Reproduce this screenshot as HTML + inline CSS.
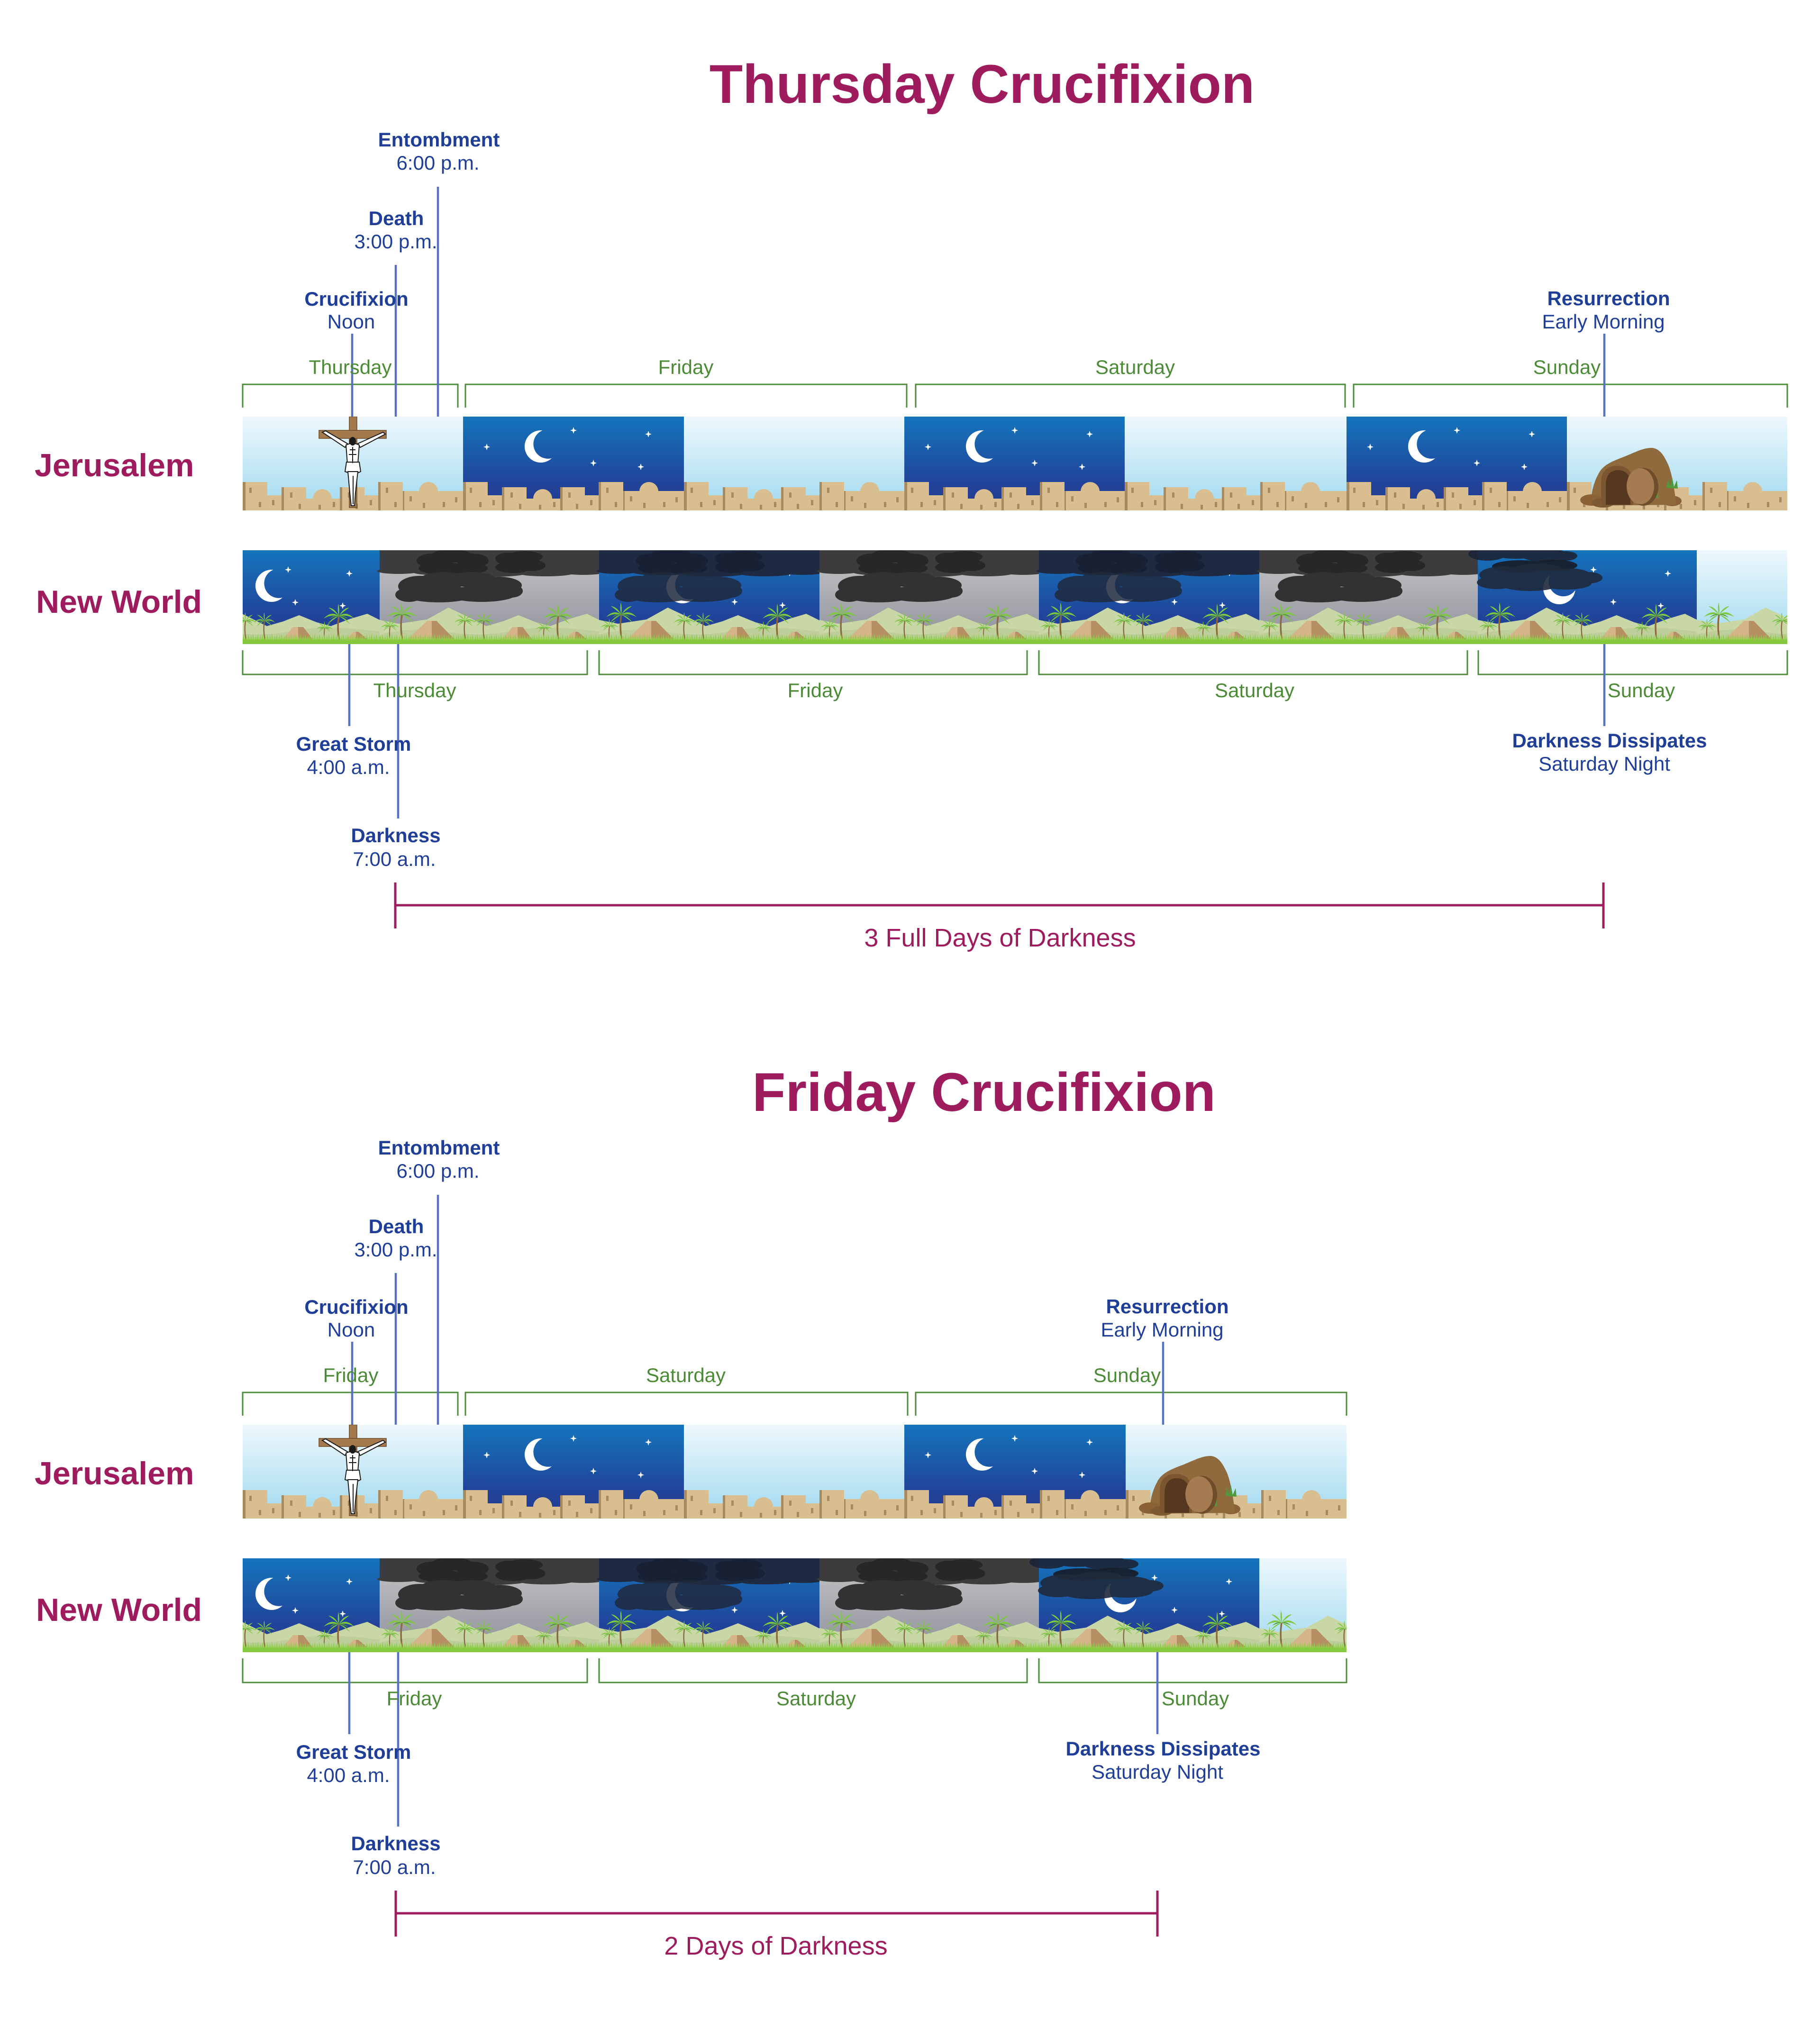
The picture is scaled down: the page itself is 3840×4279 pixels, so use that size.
<!DOCTYPE html>
<html><head><meta charset="utf-8"><style>
html,body{margin:0;padding:0;background:#fff;}
svg{display:block;}
text{font-family:"Liberation Sans",Arial,sans-serif;}
</style></head><body>
<svg xmlns="http://www.w3.org/2000/svg" width="3840" height="4279" viewBox="0 0 3840 4279">
<defs>
 <linearGradient id="gDay" x1="0" y1="0" x2="0" y2="1"><stop offset="0" stop-color="#eef8fd"/><stop offset="1" stop-color="#a0d9ee"/></linearGradient>
 <linearGradient id="gNight" x1="0" y1="0" x2="0" y2="1"><stop offset="0" stop-color="#1475bc"/><stop offset="0.7" stop-color="#21449a"/><stop offset="1" stop-color="#243a90"/></linearGradient>
 <linearGradient id="gStorm" x1="0" y1="0" x2="0" y2="1"><stop offset="0" stop-color="#c6c6c6"/><stop offset="1" stop-color="#8f8f9c"/></linearGradient>
 <pattern id="grassP" x="0" y="176" width="10" height="14" patternUnits="userSpaceOnUse"><path d="M0,14 L2,3 L4,14 L6,0 L8,14 L9,5 L10,14Z" fill="#8bcf45"/></pattern>
 <clipPath id="cJ1"><rect x="512" y="879" width="3259" height="198"/></clipPath>
 <clipPath id="cN1"><rect x="512" y="1161" width="3259" height="198"/></clipPath>
 <clipPath id="cJ2"><rect x="512" y="879" width="2329" height="198"/></clipPath>
 <clipPath id="cN2"><rect x="512" y="1161" width="2329" height="198"/></clipPath>

 <path id="star" d="M0,-7 L1.8,-1.8 L7,0 L1.8,1.8 L0,7 L-1.8,1.8 L-7,0 L-1.8,-1.8Z" fill="#fff"/>
 <path id="moon" d="M3.6,-33.8 A34,34 0 1,0 23.1,24.9 A31,31 0 0,1 3.6,-33.8Z" fill="#fff"/>

 <g id="walls">
  <path fill="#d9be8f" d="M0,198 V138 H52 V166 H82 V149 H134 V173 H205 V149 H257 V166 H286 V138 H338 V157 H468 V198 Z"/>
  <circle cx="168" cy="173" r="20" fill="#d9be8f"/>
  <circle cx="392" cy="158" r="20" fill="#d9be8f"/>
  <g fill="#a88a62">
   <rect x="0" y="138" width="6" height="60"/><rect x="82" y="149" width="5" height="49"/>
   <rect x="205" y="149" width="5" height="49"/><rect x="286" y="138" width="5" height="60"/>
   <rect x="338" y="157" width="3" height="41"/>
   <rect x="14" y="150" width="5" height="11"/><rect x="34" y="180" width="5" height="11"/>
   <rect x="62" y="176" width="5" height="11"/><rect x="100" y="160" width="5" height="11"/>
   <rect x="118" y="184" width="5" height="11"/><rect x="160" y="186" width="5" height="10"/>
   <rect x="190" y="180" width="5" height="11"/><rect x="222" y="160" width="5" height="11"/>
   <rect x="238" y="184" width="5" height="11"/><rect x="268" y="176" width="5" height="11"/>
   <rect x="302" y="150" width="5" height="11"/><rect x="320" y="180" width="5" height="11"/>
   <rect x="352" y="168" width="5" height="11"/><rect x="380" y="182" width="5" height="11"/>
   <rect x="422" y="180" width="5" height="11"/><rect x="448" y="170" width="5" height="11"/>
  </g>
 </g>

 <g id="jDay"><rect width="468" height="198" fill="url(#gDay)"/><use href="#walls"/></g>
 <g id="jNight"><rect width="468" height="198" fill="url(#gNight)"/>
  <use href="#moon" x="164" y="63"/>
  <use href="#star" x="50" y="64"/><use href="#star" x="233" y="29"/><use href="#star" x="391" y="37"/>
  <use href="#star" x="275" y="98"/><use href="#star" x="375" y="106"/>
  <use href="#walls"/></g>

 <g id="cross">
  <rect x="225" y="0" width="16" height="192" fill="#a47a4c" stroke="#6b4a2a" stroke-width="1.5"/>
  <rect x="161" y="29" width="142" height="17" fill="#a47a4c" stroke="#6b4a2a" stroke-width="1.5"/>
  <g fill="#fff" stroke="#1a1a1a" stroke-width="2">
   <polygon points="168,33 175,30 221,57 216,65"/>
   <polygon points="296,33 301,37 248,65 243,57"/>
   <path d="M218,60 Q232,53 246,60 L243,100 Q232,104 221,100 Z"/>
   <path d="M219,96 L246,96 L249,116 L236,122 L216,116 Z"/>
   <path d="M222,116 L243,116 L238,160 L236,188 L229,188 L226,160 Z"/>
  </g>
  <ellipse cx="232" cy="52" rx="7" ry="9" fill="#1a1a1a"/>
  <path d="M232,64 V98 M226,70 L238,70 M224,80 L240,80 M233,125 V185" stroke="#1a1a1a" stroke-width="2"/>
 </g>

 <g id="tomb">
  <ellipse cx="222" cy="178" rx="20" ry="11" fill="#8a6236"/>
  <path d="M52,182 C50,165 56,140 66,122 C74,104 92,96 112,88 C135,80 158,66 178,66 C195,66 205,82 214,102 C222,122 226,150 230,178 L230,186 L52,188Z" fill="#8f6a3d"/>
  <ellipse cx="52" cy="176" rx="24" ry="12" fill="#8a6236"/>
  <ellipse cx="76" cy="182" rx="24" ry="10" fill="#7e5a32"/>
  <path d="M72,186 V140 Q72,104 106,104 Q138,104 140,140 V186Z" fill="#7b5631"/>
  <path d="M82,186 V146 Q82,113 108,113 Q134,113 134,146 V186Z" fill="#55381f"/>
  <path d="M210,150 L214,132 L218,148 L222,128 L226,148 L232,134 L234,152Z" fill="#4e9a3c"/>
  <path d="M168,168 L172,150 L176,166 L182,148 L186,166 L192,156 L192,172Z" fill="#4e9a3c"/>
  <ellipse cx="161" cy="148" rx="32" ry="40" fill="#6f4d2a"/>
  <ellipse cx="155" cy="147" rx="29" ry="38" fill="#a57c51"/>
 </g>

 <g id="palm">
  <path d="M0,0 Q-5,30 3,64" stroke="#8a6a3a" stroke-width="3.5" fill="none"/>
  <path d="M0,0 Q-16,-12 -32,5 Q-16,-4 0,0Z M0,0 Q16,-12 32,5 Q16,-4 0,0Z M0,0 Q-9,-17 -22,-18 Q-9,-9 0,0Z M0,0 Q9,-17 22,-18 Q9,-9 0,0Z M0,0 Q-13,2 -24,17 Q-9,5 0,0Z M0,0 Q13,2 24,17 Q9,5 0,0Z M0,0 Q2,-14 -1,-26 Q-4,-12 0,0Z" fill="#7cc83f"/>
  <path d="M0,0 Q-10,-4 -20,6 Q-8,0 0,0Z M0,0 Q10,-4 20,6 Q8,0 0,0Z" fill="#4f9a2c"/>
 </g>

 <g id="ground">
  <path fill="#c9d7a7" d="M0,147 L40,155 L100,146 L145,121 L185,140 L225,160 L260,150 L293,137 L330,152 L360,160 L400,145 L437,134 L465,148 V198 H0Z"/>
  <path fill="#b7c893" d="M0,178 Q70,160 140,172 T280,170 T465,172 V198 H0Z" opacity="0.6"/>
  <polygon points="57,190 100,149 110,149 110,190" fill="#d5b489"/>
  <polygon points="110,149 120,149 160,190 110,190" fill="#b68f63"/>
  <polygon points="257,190 280,162 291,162 291,190" fill="#d5b489"/>
  <polygon points="291,162 302,162 323,190 291,190" fill="#b68f63"/>
  <polygon points="390,190 408,172 413,172 413,190" fill="#d5b489"/>
  <polygon points="413,172 418,172 440,190 413,190" fill="#b68f63"/>
  <use href="#palm" transform="translate(47,136)"/>
  <use href="#palm" transform="translate(22,160) scale(0.6)"/>
  <use href="#palm" transform="translate(180,149) scale(0.7)"/>
  <use href="#palm" transform="translate(220,149) scale(0.7)"/>
  <use href="#palm" transform="translate(377,139)"/>
  <use href="#palm" transform="translate(347,164) scale(0.55)"/>
  <rect x="0" y="176" width="465" height="14" fill="url(#grassP)"/>
  <rect x="0" y="189" width="465" height="9" fill="#86c83e"/>
 </g>

 <g id="cloudsBand">
  <ellipse cx="110" cy="22" rx="32" ry="15"/><ellipse cx="152" cy="12" rx="44" ry="14"/><ellipse cx="196" cy="22" rx="34" ry="15"/>
  <ellipse cx="132" cy="38" rx="50" ry="13"/><ellipse cx="186" cy="38" rx="42" ry="12"/>
  <ellipse cx="272" cy="18" rx="28" ry="13"/><ellipse cx="306" cy="14" rx="38" ry="12"/>
  <ellipse cx="320" cy="32" rx="30" ry="12"/><ellipse cx="282" cy="36" rx="38" ry="12"/>
 </g>
 <g id="cloudBig">
  <ellipse cx="85" cy="76" rx="46" ry="22"/><ellipse cx="135" cy="64" rx="52" ry="18"/><ellipse cx="195" cy="62" rx="52" ry="16"/>
  <ellipse cx="252" cy="74" rx="48" ry="18"/><ellipse cx="125" cy="92" rx="77" ry="18"/><ellipse cx="215" cy="92" rx="74" ry="17"/>
  <ellipse cx="62" cy="94" rx="29" ry="15"/><ellipse cx="278" cy="86" rx="24" ry="14"/>
 </g>
 <g id="bandEdge">
  <ellipse cx="40" cy="44" rx="45" ry="6"/><ellipse cx="130" cy="46" rx="60" ry="7"/><ellipse cx="240" cy="48" rx="70" ry="8"/>
  <ellipse cx="350" cy="48" rx="60" ry="7"/><ellipse cx="430" cy="46" rx="45" ry="6"/>
 </g>

 <g id="nwNight"><rect width="465" height="198" fill="url(#gNight)"/>
  <use href="#moon" x="235" y="75"/>
  <use href="#star" x="270" y="41"/><use href="#star" x="399" y="49"/><use href="#star" x="285" y="110"/><use href="#star" x="385" y="117"/>
  <use href="#ground"/></g>
 <g id="nwStorm"><rect width="465" height="198" fill="url(#gStorm)"/>
  <rect width="465" height="44" fill="#3c3c3c"/>
  <use href="#bandEdge" fill="#3c3c3c"/>
  <use href="#cloudsBand" fill="#272727"/>
  <use href="#cloudBig" fill="#323232"/>
  <use href="#ground"/></g>
 <g id="nwCloud"><rect width="465" height="198" fill="url(#gNight)"/>
  <use href="#moon" x="176" y="78"/>
  <use href="#star" x="244" y="41"/><use href="#star" x="402" y="48"/><use href="#star" x="286" y="109"/><use href="#star" x="387" y="116"/>
  <rect width="465" height="44" fill="#1d2a42"/>
  <use href="#bandEdge" fill="#1d2a42"/>
  <use href="#cloudsBand" fill="#182134"/>
  <use href="#cloudBig" fill="#1f2a3e" opacity="0.85"/>
  <use href="#ground"/></g>
 <g id="nwPartial"><rect width="465" height="198" fill="url(#gNight)"/>
  <use href="#star" x="244" y="41"/><use href="#star" x="401" y="49"/><use href="#star" x="286" y="109"/><use href="#star" x="386" y="117"/>
  <use href="#moon" transform="translate(172,80) rotate(-40)"/>
  <g fill="#1d2538" opacity="0.92">
   <ellipse cx="20" cy="8" rx="40" ry="14"/><ellipse cx="80" cy="6" rx="50" ry="12"/><ellipse cx="140" cy="10" rx="50" ry="14"/><ellipse cx="185" cy="12" rx="25" ry="10"/>
  </g>
  <g fill="#181d29" opacity="0.92"><ellipse cx="90" cy="34" rx="60" ry="13"/><ellipse cx="160" cy="32" rx="50" ry="12"/></g>
  <g fill="#1f2a3d" opacity="0.9">
   <ellipse cx="55" cy="52" rx="52" ry="18"/><ellipse cx="125" cy="46" rx="58" ry="18"/><ellipse cx="190" cy="54" rx="50" ry="16"/>
   <ellipse cx="235" cy="58" rx="28" ry="12"/><ellipse cx="40" cy="68" rx="42" ry="14"/><ellipse cx="110" cy="72" rx="62" ry="14"/><ellipse cx="185" cy="70" rx="55" ry="13"/>
  </g>
  <use href="#ground"/></g>
 <g id="nwDay"><rect width="465" height="198" fill="url(#gDay)"/><use href="#ground"/></g>
</defs>

<rect width="3840" height="4279" fill="#fff"/>

<!-- ================= SECTION 1 ================= -->
<g>
 <text x="2072" y="217" text-anchor="middle" font-size="115" font-weight="bold" fill="#9e1c5e">Thursday Crucifixion</text>

 <g clip-path="url(#cJ1)">
  <use href="#jDay" x="512" y="879"/>
  <use href="#cross" x="512" y="879"/>
  <use href="#jNight" x="977" y="879"/>
  <use href="#jDay" x="1443" y="879"/>
  <use href="#jNight" x="1908" y="879"/>
  <use href="#jDay" x="2373" y="879"/>
  <use href="#jNight" x="2841" y="879"/>
  <use href="#jDay" x="3306" y="879"/>
  <use href="#tomb" x="3306" y="879"/>
 </g>
 <g clip-path="url(#cN1)">
  <use href="#nwNight" x="338" y="1161"/>
  <use href="#nwStorm" x="801" y="1161"/>
  <use href="#nwCloud" x="1264" y="1161"/>
  <use href="#nwStorm" x="1729" y="1161"/>
  <use href="#nwCloud" x="2192" y="1161"/>
  <use href="#nwStorm" x="2657" y="1161"/>
  <use href="#nwPartial" x="3118" y="1161"/>
  <use href="#nwDay" x="3580" y="1161"/>
 </g>

 <g fill="none" stroke="#4e8b3b" stroke-width="3">
  <path d="M512,860 V811 H966 V860"/><path d="M982,860 V811 H1913 V860"/>
  <path d="M1932,860 V811 H2838 V860"/><path d="M2856,860 V811 H3771 V860"/>
  <path d="M512,1372 V1423 H1239 V1372"/><path d="M1264,1372 V1423 H2167 V1372"/>
  <path d="M2192,1372 V1423 H3096 V1372"/><path d="M3119,1372 V1423 H3771 V1372"/>
 </g>

 <g stroke="#5673bf" stroke-width="4.5">
  <line x1="743" y1="704" x2="743" y2="879"/>
  <line x1="835" y1="559" x2="835" y2="879"/>
  <line x1="924" y1="394" x2="924" y2="879"/>
  <line x1="3385" y1="704" x2="3385" y2="879"/>
  <line x1="737" y1="1359" x2="737" y2="1532"/>
  <line x1="840" y1="1359" x2="840" y2="1727"/>
  <line x1="3385" y1="1359" x2="3385" y2="1532"/>
 </g>

 <g fill="#4b8b36" font-size="42" text-anchor="middle">
  <text x="739" y="789">Thursday</text><text x="1447" y="789">Friday</text>
  <text x="2395" y="789">Saturday</text><text x="3306" y="789">Sunday</text>
  <text x="875" y="1471">Thursday</text><text x="1720" y="1471">Friday</text>
  <text x="2647" y="1471">Saturday</text><text x="3463" y="1471">Sunday</text>
 </g>

 <g fill="#1f3e97" font-size="42" text-anchor="middle">
  <text x="926" y="309" font-weight="bold">Entombment</text><text x="924" y="358">6:00 p.m.</text>
  <text x="836" y="475" font-weight="bold">Death</text><text x="835" y="524">3:00 p.m.</text>
  <text x="752" y="645" font-weight="bold">Crucifixion</text><text x="741" y="693">Noon</text>
  <text x="3394" y="644" font-weight="bold">Resurrection</text><text x="3383" y="693">Early Morning</text>
  <text x="746" y="1584" font-weight="bold">Great Storm</text><text x="735" y="1633">4:00 a.m.</text>
  <text x="835" y="1777" font-weight="bold">Darkness</text><text x="832" y="1827">7:00 a.m.</text>
  <text x="3396" y="1577" font-weight="bold">Darkness Dissipates</text><text x="3385" y="1626">Saturday Night</text>
 </g>

 <g fill="#9e1c5e" font-weight="bold" font-size="68">
  <text x="73" y="1005">Jerusalem</text><text x="76" y="1293">New World</text>
 </g>

 <g stroke="#9d1d5f" stroke-width="5" fill="none">
  <path d="M834,1910 H3383 M834,1862 V1959 M3383,1862 V1959"/>
 </g>
 <text x="2110" y="1997" text-anchor="middle" font-size="54" fill="#9e1c5e">3 Full Days of Darkness</text>
</g>

<!-- ================= SECTION 2 ================= -->
<g transform="translate(0,2127)">
 <text x="2076" y="217" text-anchor="middle" font-size="115" font-weight="bold" fill="#9e1c5e">Friday Crucifixion</text>

 <g clip-path="url(#cJ2)">
  <use href="#jDay" x="512" y="879"/>
  <use href="#cross" x="512" y="879"/>
  <use href="#jNight" x="977" y="879"/>
  <use href="#jDay" x="1443" y="879"/>
  <use href="#jNight" x="1908" y="879"/>
  <use href="#jDay" x="2375" y="879"/>
  <use href="#tomb" x="2375" y="879"/>
 </g>
 <g clip-path="url(#cN2)">
  <use href="#nwNight" x="338" y="1161"/>
  <use href="#nwStorm" x="801" y="1161"/>
  <use href="#nwCloud" x="1264" y="1161"/>
  <use href="#nwStorm" x="1729" y="1161"/>
  <use href="#nwPartial" x="2192" y="1161"/>
  <use href="#nwDay" x="2657" y="1161"/>
 </g>

 <g fill="none" stroke="#4e8b3b" stroke-width="3">
  <path d="M512,860 V811 H966 V860"/><path d="M982,860 V811 H1915 V860"/>
  <path d="M1932,860 V811 H2841 V860"/>
  <path d="M512,1372 V1423 H1239 V1372"/><path d="M1264,1372 V1423 H2167 V1372"/>
  <path d="M2192,1372 V1423 H2841 V1372"/>
 </g>

 <g stroke="#5673bf" stroke-width="4.5">
  <line x1="743" y1="704" x2="743" y2="879"/>
  <line x1="835" y1="559" x2="835" y2="879"/>
  <line x1="924" y1="394" x2="924" y2="879"/>
  <line x1="2454" y1="704" x2="2454" y2="879"/>
  <line x1="737" y1="1359" x2="737" y2="1532"/>
  <line x1="840" y1="1359" x2="840" y2="1727"/>
  <line x1="2442" y1="1359" x2="2442" y2="1532"/>
 </g>

 <g fill="#4b8b36" font-size="42" text-anchor="middle">
  <text x="740" y="789">Friday</text><text x="1447" y="789">Saturday</text><text x="2378" y="789">Sunday</text>
  <text x="874" y="1471">Friday</text><text x="1722" y="1471">Saturday</text><text x="2522" y="1471">Sunday</text>
 </g>

 <g fill="#1f3e97" font-size="42" text-anchor="middle">
  <text x="926" y="309" font-weight="bold">Entombment</text><text x="924" y="358">6:00 p.m.</text>
  <text x="836" y="475" font-weight="bold">Death</text><text x="835" y="524">3:00 p.m.</text>
  <text x="752" y="645" font-weight="bold">Crucifixion</text><text x="741" y="693">Noon</text>
  <text x="2463" y="644" font-weight="bold">Resurrection</text><text x="2452" y="693">Early Morning</text>
  <text x="746" y="1584" font-weight="bold">Great Storm</text><text x="735" y="1633">4:00 a.m.</text>
  <text x="835" y="1777" font-weight="bold">Darkness</text><text x="832" y="1827">7:00 a.m.</text>
  <text x="2454" y="1577" font-weight="bold">Darkness Dissipates</text><text x="2442" y="1626">Saturday Night</text>
 </g>

 <g fill="#9e1c5e" font-weight="bold" font-size="68">
  <text x="73" y="1005">Jerusalem</text><text x="76" y="1293">New World</text>
 </g>

 <g stroke="#9d1d5f" stroke-width="5" fill="none">
  <path d="M835,1910 H2442 M835,1862 V1959 M2442,1862 V1959"/>
 </g>
 <text x="1637" y="1997" text-anchor="middle" font-size="54" fill="#9e1c5e">2 Days of Darkness</text>
</g>
</svg>
</body></html>
